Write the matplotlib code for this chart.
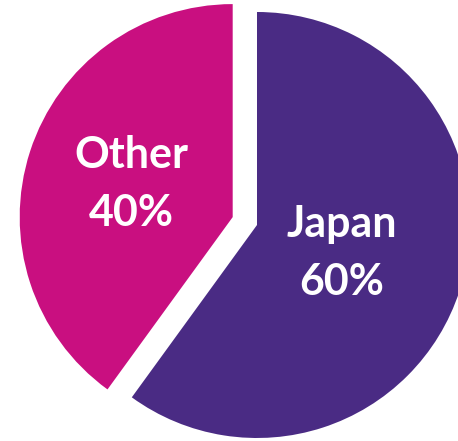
import numpy as np
import matplotlib.pyplot as plt

labels = ['Japan', 'Other']
shares = [60, 40]
colors = ['#4A2B84', '#C90F80']
explode = [0, 0.12]
label_dist = [0.42, 0.50]

fig = plt.figure(figsize=(4.58, 4.41), dpi=100)
ax = fig.add_axes([0, 0, 1, 1])

wedges, _ = ax.pie(shares, colors=colors, explode=explode,
                   startangle=90, counterclock=False)

for w, l, s, d in zip(wedges, labels, shares, label_dist):
    mid = np.deg2rad((w.theta1 + w.theta2) / 2)
    cx, cy = w.center
    ax.text(cx + d * np.cos(mid), cy + d * np.sin(mid), f'{l}\n{s}%',
            color='white', fontsize=31, fontweight='bold', family='Lato',
            ha='center', va='center', linespacing=1.55)

# pie is cropped on the right edge in the original
ax.set_xlim(-1.2066, 0.9437)
ax.set_ylim(-1.0141, 1.0563)
ax.set_aspect('auto')
ax.axis('off')

plt.savefig('out.png', dpi=100)
